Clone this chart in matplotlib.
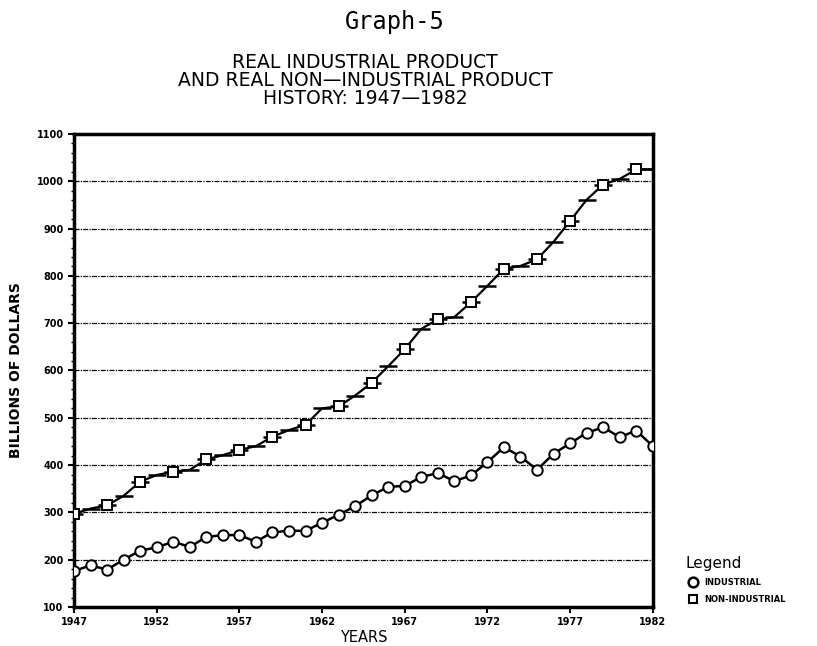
import matplotlib
matplotlib.use("Agg")
import matplotlib.pyplot as plt
from matplotlib.ticker import MultipleLocator

years = list(range(1947, 1983))

# billions of dollars
industrial = [176, 188, 179, 200, 219, 226, 238, 227, 248, 252,
              252, 238, 258, 261, 261, 278, 295, 313, 336, 354,
              356, 375, 383, 366, 378, 406, 438, 418, 390, 424,
              446, 468, 480, 459, 473, 440]
non_industrial = [297, 308, 315, 335, 365, 379, 386, 390, 412, 421,
                  432, 440, 460, 474, 485, 520, 524, 547, 574, 609,
                  645, 688, 708, 713, 744, 779, 815, 821, 835, 872,
                  916, 961, 993, 1005, 1025, 1025]

year_ticks = [1947, 1952, 1957, 1962, 1967, 1972, 1977, 1982]
value_ticks = list(range(100, 1101, 100))

fig = plt.figure(figsize=(8.17, 6.46), dpi=100)
ax = fig.add_axes([0.0906, 0.0604, 0.7084, 0.7322])

# dotted gridlines
for v in value_ticks[1:-1]:
    ax.axhline(v, color="black", lw=0.9, ls=(0, (4, 1, 1, 1)), zorder=1)

# non-industrial: plotter style, short flat dash at each year
ax.plot(years, non_industrial, color="black", lw=1.6, zorder=2)
ax.plot(years, non_industrial, ls="none", marker="_", ms=13, mew=1.8,
        color="black", zorder=2)
ax.plot(years[::2], non_industrial[::2], ls="none", marker="s", ms=7,
        mfc="white", mec="black", mew=1.4, zorder=3)
ax.plot(years, industrial, color="black", lw=1.8, marker="o", ms=7.5,
        mfc="white", mec="black", mew=1.4, zorder=3)

ax.set_xlim(1947, 1982)
ax.set_ylim(100, 1100)
ax.set_xticks(year_ticks)
ax.set_yticks(value_ticks)
ax.yaxis.set_minor_locator(MultipleLocator(20))
ax.tick_params(axis="both", labelsize=7, width=1.5, length=4, direction="out")
ax.tick_params(axis="y", which="minor", length=2, width=1)
for lab in ax.get_xticklabels() + ax.get_yticklabels():
    lab.set_fontweight("bold")
for s in ax.spines.values():
    s.set_linewidth(2.5)

ax.set_ylabel("BILLIONS OF DOLLARS", fontsize=10, fontweight="bold", labelpad=10)
ax.set_xlabel("YEARS", fontsize=10.5, labelpad=2)

# legend handles
h1, = ax.plot([], [], ls="none", marker="o", ms=7, mfc="white", mec="black", mew=1.8)
h2, = ax.plot([], [], ls="none", marker="s", ms=6, mfc="white", mec="black", mew=1.5)
leg = ax.legend([h1, h2], ["INDUSTRIAL", "NON-INDUSTRIAL"], title="Legend",
                loc="lower left", bbox_to_anchor=(1.05, 0.0), frameon=False,
                fontsize=6, title_fontsize=11, handletextpad=0.3,
                labelspacing=0.9, borderaxespad=0.0)
leg._legend_box.align = "left"
for t in leg.get_texts():
    t.set_fontweight("bold")

fig.text(0.483, 0.985, "Graph-5", ha="center", va="top",
         family="DejaVu Sans Mono", fontsize=17)
fig.text(0.447, 0.918, "REAL INDUSTRIAL PRODUCT\nAND REAL NON\u2014INDUSTRIAL PRODUCT\nHISTORY: 1947\u20141982",
         ha="center", va="top", fontsize=13.5, linespacing=0.95)

fig.savefig("out.png", dpi=100)
